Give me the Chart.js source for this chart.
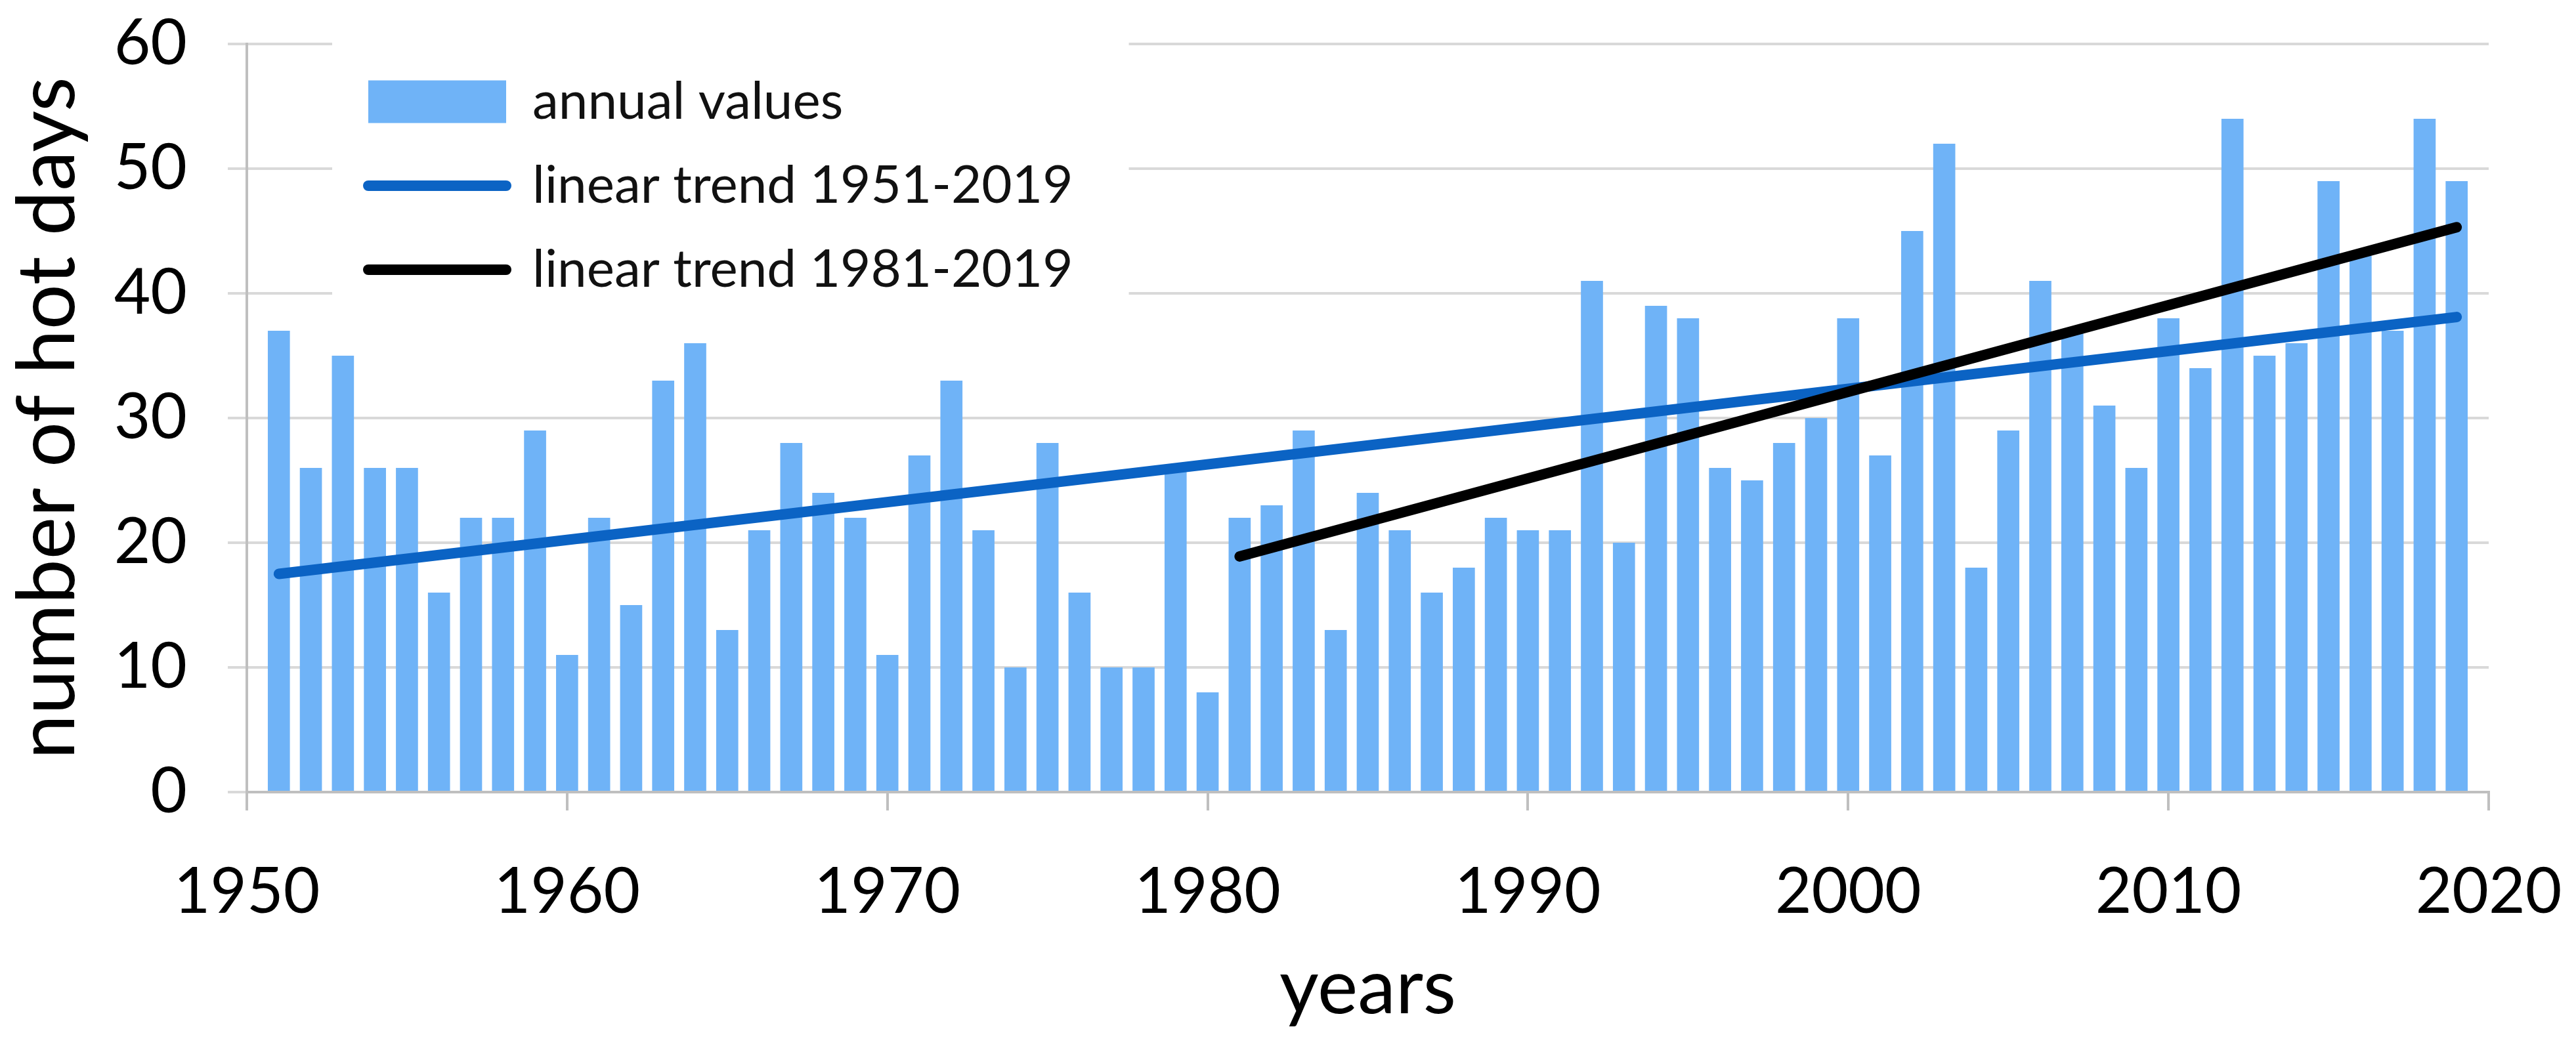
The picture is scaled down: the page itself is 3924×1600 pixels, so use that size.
<!DOCTYPE html>
<html lang="en">
<head>
    <meta charset="UTF-8">
    <title>Number of hot days 1951-2019</title>
    <script src="https://cdn.jsdelivr.net/npm/chart.js@4.4.1/dist/chart.umd.min.js"></script>
    <style>
        html, body { margin: 0; padding: 0; background: #fff; }
        #wrap { width: 3924px; height: 1600px; }
    </style>
</head>
<body>
<div id="wrap"><canvas id="hotDays" width="3924" height="1600"></canvas></div>
<script>
    // annual values
    var years = [1951, 1952, 1953, 1954, 1955, 1956, 1957, 1958, 1959, 1960,
                 1961, 1962, 1963, 1964, 1965, 1966, 1967, 1968, 1969, 1970,
                 1971, 1972, 1973, 1974, 1975, 1976, 1977, 1978, 1979, 1980,
                 1981, 1982, 1983, 1984, 1985, 1986, 1987, 1988, 1989, 1990,
                 1991, 1992, 1993, 1994, 1995, 1996, 1997, 1998, 1999, 2000,
                 2001, 2002, 2003, 2004, 2005, 2006, 2007, 2008, 2009, 2010,
                 2011, 2012, 2013, 2014, 2015, 2016, 2017, 2018, 2019];
    var hotDays = [37, 26, 35, 26, 26, 16, 22, 22, 29, 11,
                   22, 15, 33, 36, 13, 21, 28, 24, 22, 11,
                   27, 33, 21, 10, 28, 16, 10, 10, 26, 8,
                   22, 23, 29, 13, 24, 21, 16, 18, 22, 21,
                   21, 41, 20, 39, 38, 26, 25, 28, 30, 38,
                   27, 45, 52, 18, 29, 41, 37, 31, 26, 38,
                   34, 54, 35, 36, 49, 43, 37, 54, 49];

    // trend lines (end points)
    var trendLongYears = [1951, 2019];
    var trendLongValues = [17.5, 38.1];
    var trendRecentYears = [1981, 2019];
    var trendRecentValues = [18.9, 45.3];

    var xTicks = [1950, 1960, 1970, 1980, 1990, 2000, 2010, 2020];
    var yTicks = [0, 10, 20, 30, 40, 50, 60];

    function points(xs, ys) {
        return xs.map(function (x, i) { return { x: x, y: ys[i] }; });
    }

    var FONT = 'Lato';

    // legend sits inside the plot, on a white panel that hides the grid
    var legendPanel = {
        id: 'legendPanel',
        afterLayout: function (chart) {
            var lg = chart.legend;
            var area = chart.chartArea;
            lg.left = area.left + 137;
            lg.right = area.right + 137;
            lg.top = area.top;
            lg.bottom = area.bottom;
            if (!lg._panelWrapped) {
                var draw = lg.draw;
                lg.draw = function () {
                    var hb = this.legendHitBoxes;
                    if (hb && hb.length) {
                        var l = Infinity, t = Infinity, r = -Infinity, b = -Infinity;
                        hb.forEach(function (h) {
                            l = Math.min(l, h.left);
                            t = Math.min(t, h.top);
                            r = Math.max(r, h.left + h.width);
                            b = Math.max(b, h.top + h.height);
                        });
                        var ctx = this.ctx;
                        ctx.save();
                        ctx.fillStyle = '#ffffff';
                        ctx.fillRect(l - 55, t - 80, (r - l) + 140, (b - t) + 120);
                        ctx.restore();
                    }
                    draw.call(this);
                };
                lg._panelWrapped = true;
            }
        }
    };

    var ctx = document.getElementById('hotDays').getContext('2d');
    var chart = new Chart(ctx, {
        type: 'bar',
        data: {
            datasets: [
                {
                    type: 'bar',
                    label: 'annual values',
                    data: points(years, hotDays),
                    backgroundColor: '#6fb3f7',
                    borderWidth: 0,
                    barPercentage: 0.69,
                    categoryPercentage: 1,
                    order: 3
                },
                {
                    type: 'line',
                    label: 'linear trend 1951-2019',
                    data: points(trendLongYears, trendLongValues),
                    borderColor: '#0b63c4',
                    backgroundColor: '#0b63c4',
                    borderWidth: 16,
                    borderCapStyle: 'round',
                    pointRadius: 0,
                    tension: 0,
                    order: 2
                },
                {
                    type: 'line',
                    label: 'linear trend 1981-2019',
                    data: points(trendRecentYears, trendRecentValues),
                    borderColor: '#000000',
                    backgroundColor: '#000000',
                    borderWidth: 16,
                    borderCapStyle: 'round',
                    pointRadius: 0,
                    tension: 0,
                    order: 1
                }
            ]
        },
        options: {
            responsive: false,
            animation: false,
            devicePixelRatio: 1,
            layout: { padding: { top: 67, right: 133, left: 0, bottom: 0 } },
            plugins: {
                tooltip: { enabled: false },
                legend: {
                    position: 'chartArea',
                    align: 'start',
                    labels: {
                        font: { family: FONT, size: 80 },
                        color: '#111111',
                        usePointStyle: true,
                        pointStyleWidth: 210,
                        boxHeight: 65,
                        padding: 48,
                        sort: function (a, b) { return a.datasetIndex - b.datasetIndex; },
                        generateLabels: function (c) {
                            var items = Chart.defaults.plugins.legend.labels.generateLabels(c);
                            items.forEach(function (it) {
                                var ds = c.data.datasets[it.datasetIndex];
                                if (ds.type === 'line') {
                                    it.pointStyle = 'line';
                                    it.strokeStyle = ds.borderColor;
                                    it.lineWidth = ds.borderWidth;
                                    it.lineCap = 'round';
                                } else {
                                    it.pointStyle = 'rect';
                                    it.fillStyle = ds.backgroundColor;
                                    it.lineWidth = 0;
                                }
                            });
                            return items;
                        }
                    }
                }
            },
            scales: {
                x: {
                    type: 'linear',
                    min: xTicks[0],
                    max: xTicks[xTicks.length - 1],
                    offset: false,
                    afterFit: function (s) {
                        s.height = 393;
                        s.paddingLeft = 0;
                        s.paddingRight = 0;
                    },
                    afterBuildTicks: function (s) {
                        s.ticks = xTicks.map(function (v) { return { value: v }; });
                    },
                    ticks: {
                        font: { family: FONT, size: 96 },
                        color: '#000000',
                        padding: 67,
                        maxRotation: 0,
                        autoSkip: false,
                        callback: function (v) { return String(v); }
                    },
                    grid: {
                        offset: false,
                        drawOnChartArea: false,
                        drawTicks: true,
                        tickLength: 28,
                        color: '#bfbfbf',
                        lineWidth: 4
                    },
                    border: { display: true, color: '#bfbfbf', width: 4 },
                    title: {
                        display: true,
                        text: 'years',
                        color: '#000000',
                        font: { family: FONT, size: 116 },
                        padding: { top: 0, bottom: 24 }
                    }
                },
                y: {
                    min: yTicks[0],
                    max: yTicks[yTicks.length - 1],
                    afterFit: function (s) {
                        s.width = 376;
                        s.paddingTop = 0;
                        s.paddingBottom = 0;
                    },
                    afterBuildTicks: function (s) {
                        s.ticks = yTicks.map(function (v) { return { value: v }; });
                    },
                    ticks: {
                        font: { family: FONT, size: 96 },
                        color: '#000000',
                        padding: 62
                    },
                    grid: {
                        color: '#d9d9d9',
                        lineWidth: 4,
                        tickLength: 29,
                        drawTicks: true
                    },
                    border: { display: true, color: '#bfbfbf', width: 4 },
                    title: {
                        display: true,
                        text: 'number of hot days',
                        color: '#000000',
                        font: { family: FONT, size: 122 },
                        padding: { top: 0, bottom: 0 }
                    }
                }
            }
        },
        plugins: [legendPanel]
    });
</script>
</body>
</html>
